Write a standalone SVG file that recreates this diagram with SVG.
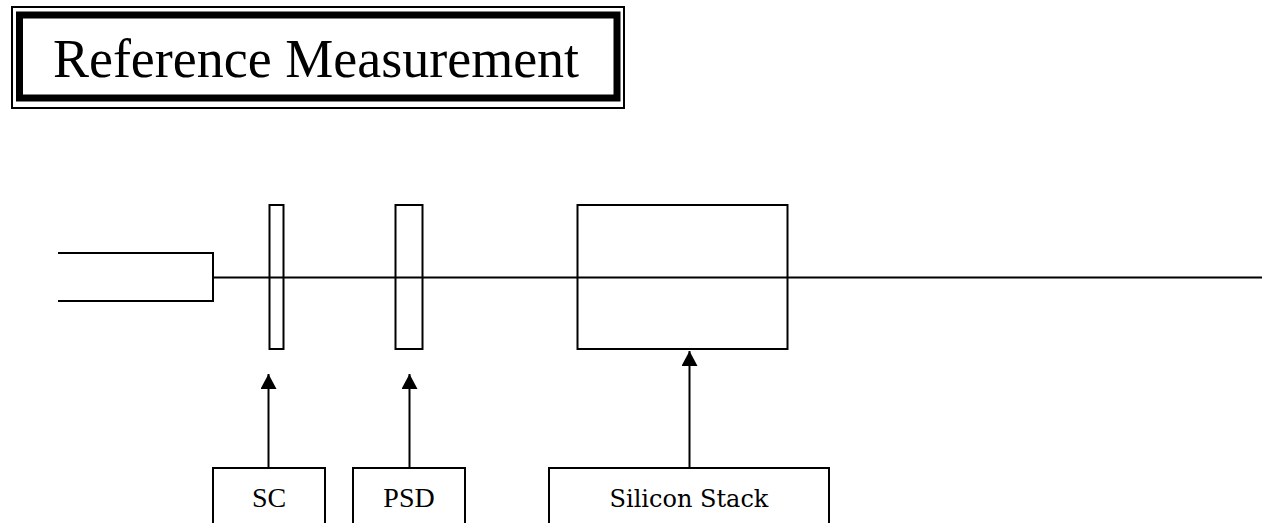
<svg xmlns="http://www.w3.org/2000/svg" width="1262" height="523" viewBox="0 0 1262 523">
<defs>
<style>
.ln{fill:none;stroke:#000;stroke-width:2}
.box{fill:#fff;stroke:#000;stroke-width:2}
.lbl{font-family:"Liberation Serif",serif;font-size:28px;fill:#000;text-anchor:middle}
</style>
<marker id="ah" markerWidth="16" markerHeight="16" refX="15" refY="8" orient="auto" markerUnits="userSpaceOnUse">
<path d="M0,0 L15,8 L0,16 Z" fill="#000"/>
</marker>
</defs>
<rect width="1262" height="523" fill="#fff"/>
<g id="title">
<rect x="12" y="7" width="612" height="101" fill="none" stroke="#000" stroke-width="2"/>
<rect x="19.5" y="15" width="597.5" height="83" fill="none" stroke="#000" stroke-width="7"/>
<text x="316" y="77" font-family="Liberation Serif, serif" font-size="54" text-anchor="middle">Reference Measurement</text>
</g>
<g id="source">
<path class="ln" d="M58,253 H213 V301 H58"/>
</g>
<g id="beam">
<line class="ln" x1="213" y1="277.5" x2="1262" y2="277.5"/>
</g>
<g id="sc-plate"><rect class="ln" x="269.5" y="205" width="14" height="144"/></g>
<g id="psd-plate"><rect class="ln" x="395.5" y="205" width="27" height="144"/></g>
<g id="stack-box"><rect class="ln" x="577.5" y="205" width="210" height="144"/></g>
<g id="connectors">
<line class="ln" x1="268.5" y1="468" x2="268.5" y2="374" marker-end="url(#ah)"/>
<line class="ln" x1="409.5" y1="468" x2="409.5" y2="374" marker-end="url(#ah)"/>
<line class="ln" x1="689.5" y1="468" x2="689.5" y2="351" marker-end="url(#ah)"/>
</g>
<g id="sc">
<rect class="box" x="213" y="468" width="112" height="70"/>
<text class="lbl" x="269" y="507">SC</text>
</g>
<g id="psd">
<rect class="box" x="353" y="468" width="112" height="70"/>
<text class="lbl" x="409" y="507">PSD</text>
</g>
<g id="silicon-stack">
<rect class="box" x="549" y="468" width="280" height="70"/>
<text x="689" y="507" font-family="DejaVu Serif, serif" font-size="24" text-anchor="middle">Silicon Stack</text>
</g>
</svg>
